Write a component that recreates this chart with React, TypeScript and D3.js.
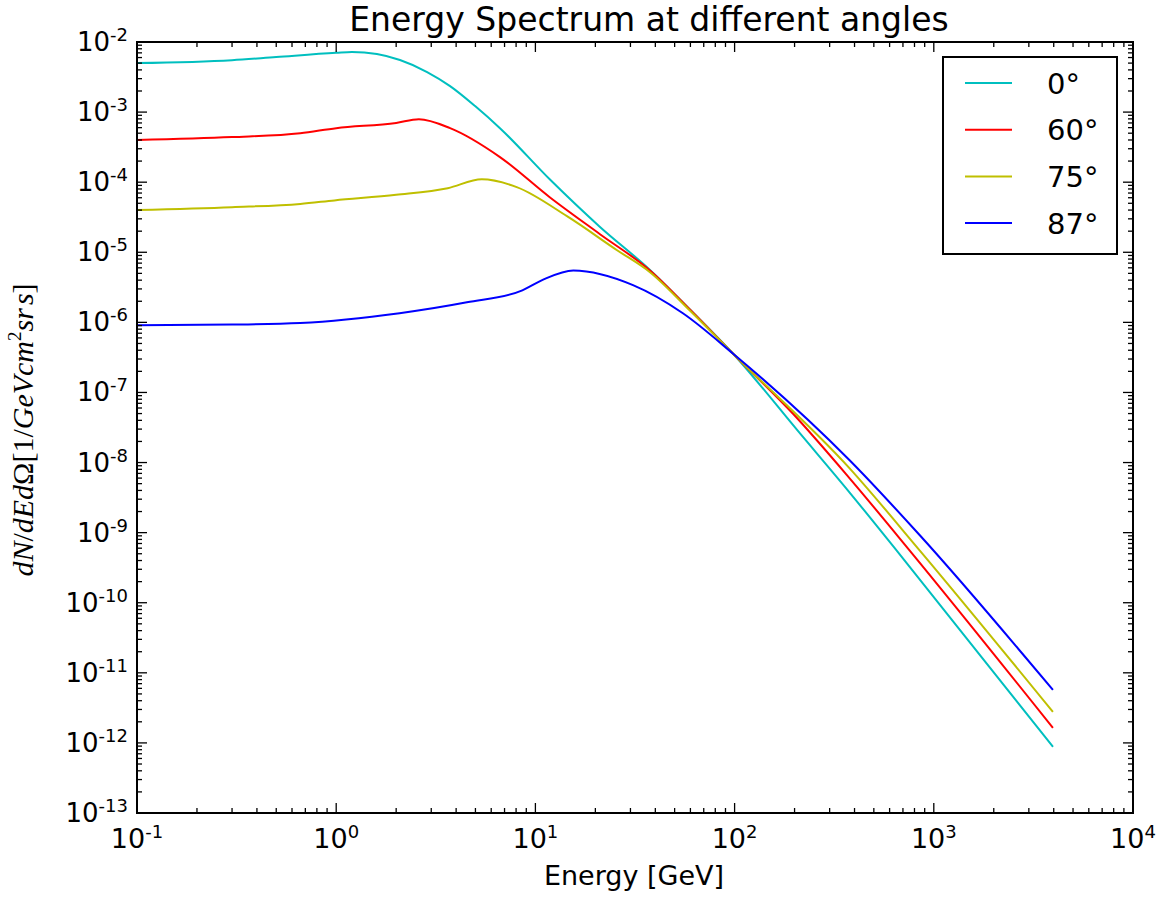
import React from "react";
import * as d3 from "d3";

const seriesLabels = ["0°", "60°", "75°", "87°"];
const seriesColors = ["#00BFBF", "#FF0000", "#BFBF00", "#0000FF"];

const energy0 = [0.1, 0.3, 0.5, 1.0, 1.2, 1.6, 2.09, 2.86, 3.73, 4.98, 6.64, 11.8, 21.1, 37.6, 60, 98, 213, 379, 653, 3963];
const flux0 = [5.0e-3, 5.5e-3, 6.1e-3, 7.0e-3, 7.2e-3, 6.74e-3, 5.53e-3, 3.73e-3, 2.35e-3, 1.22e-3, 5.9e-4, 1.1e-4, 2.3e-5, 5.6e-6, 1.5e-6, 3.6e-7, 2.6e-8, 3.7e-9, 5.5e-10, 8.8e-13];

const energy60 = [0.1, 0.3, 0.66, 1.0, 2.0, 2.6, 3.73, 6.64, 11.8, 21.1, 37.6, 60, 98, 196, 379, 759, 3963];
const flux60 = [4.0e-4, 4.4e-4, 5.0e-4, 5.9e-4, 7.0e-4, 7.9e-4, 5.9e-4, 2.28e-4, 6.1e-5, 1.81e-5, 5.5e-6, 1.5e-6, 3.6e-7, 5.0e-8, 5.9e-9, 5.5e-10, 1.64e-12];

const energy75 = [0.1, 0.3, 0.66, 0.98, 2.0, 3.63, 5.38, 8.06, 14.4, 25.7, 37.6, 60, 98, 379, 853, 3963];
const flux75 = [4.0e-5, 4.4e-5, 4.9e-5, 5.5e-5, 6.6e-5, 8.2e-5, 1.10e-4, 8.5e-5, 3.27e-5, 1.07e-5, 5.2e-6, 1.45e-6, 3.6e-7, 8.2e-9, 5.5e-10, 2.77e-12];

const energy87 = [0.1, 0.3, 0.66, 2.08, 4.53, 8.6, 11, 15.5, 30.9, 55, 98, 379, 853, 3963];
const flux87 = [9.1e-7, 9.3e-7, 9.8e-7, 1.35e-6, 1.93e-6, 2.86e-6, 4.1e-6, 5.5e-6, 3.4e-6, 1.35e-6, 3.6e-7, 1.07e-8, 9.1e-10, 5.7e-12];

const xTickExps = [-1, 0, 1, 2, 3, 4];
const yTickExps = [-13, -12, -11, -10, -9, -8, -7, -6, -5, -4, -3, -2];

const titleText = "Energy Spectrum at different angles";
const xLabelText = "Energy [GeV]";

const W = 1165;
const H = 899;
const L = 137, R = 1133, T = 42, B = 813;

export default function App() {
  const x = d3.scaleLog().domain([0.1, 1e4]).range([L, R]);
  const y = d3.scaleLog().domain([1e-13, 1e-2]).range([B, T]);

  const series = [
    { e: energy0, f: flux0 },
    { e: energy60, f: flux60 },
    { e: energy75, f: flux75 },
    { e: energy87, f: flux87 },
  ];

  const line = d3
    .line<[number, number]>()
    .x((d) => x(d[0]))
    .y((d) => y(d[1]))
    .curve(d3.curveMonotoneX);

  const xMinor: number[] = [];
  for (let p = -1; p < 4; p++) for (let k = 2; k <= 9; k++) xMinor.push(k * Math.pow(10, p));
  const yMinor: number[] = [];
  for (let p = -13; p < -2; p++) for (let k = 2; k <= 9; k++) yMinor.push(k * Math.pow(10, p));

  const majorLen = 10;
  const minorLen = 5;
  const font = "DejaVu Sans, sans-serif";

  return (
    <svg width={W} height={H} style={{ position: "absolute", left: 0, top: 0, background: "#fff" }}>
      <rect x={0} y={0} width={W} height={H} fill="#fff" />
      <clipPath id="plotclip">
        <rect x={L} y={T} width={R - L} height={B - T} />
      </clipPath>
      <g clipPath="url(#plotclip)">
        {series.map((s, i) => (
          <path
            key={i}
            d={line(s.e.map((v, j) => [v, s.f[j]] as [number, number])) || ""}
            fill="none"
            stroke={seriesColors[i]}
            strokeWidth={2}
          />
        ))}
      </g>
      {/* ticks */}
      <g stroke="#000" strokeWidth={1.3}>
        {xTickExps.map((p) => {
          const px = x(Math.pow(10, p));
          return (
            <g key={"xt" + p}>
              <line x1={px} x2={px} y1={B} y2={B - majorLen} />
              <line x1={px} x2={px} y1={T} y2={T + majorLen} />
            </g>
          );
        })}
        {xMinor.map((v, i) => {
          const px = x(v);
          return (
            <g key={"xm" + i}>
              <line x1={px} x2={px} y1={B} y2={B - minorLen} />
              <line x1={px} x2={px} y1={T} y2={T + minorLen} />
            </g>
          );
        })}
        {yTickExps.map((p) => {
          const py = y(Math.pow(10, p));
          return (
            <g key={"yt" + p}>
              <line x1={L} x2={L + majorLen} y1={py} y2={py} />
              <line x1={R} x2={R - majorLen} y1={py} y2={py} />
            </g>
          );
        })}
        {yMinor.map((v, i) => {
          const py = y(v);
          return (
            <g key={"ym" + i}>
              <line x1={L} x2={L + minorLen} y1={py} y2={py} />
              <line x1={R} x2={R - minorLen} y1={py} y2={py} />
            </g>
          );
        })}
      </g>
      <rect x={L} y={T} width={R - L} height={B - T} fill="none" stroke="#000" strokeWidth={2} />
      {/* x tick labels */}
      {xTickExps.map((p) => (
        <text key={"xl" + p} x={x(Math.pow(10, p))} y={B + 35} textAnchor="middle" fontFamily={font} fontSize={27} fill="#000">
          10
          <tspan fontSize={18} dy={-10}>{p}</tspan>
        </text>
      ))}
      {/* y tick labels */}
      {yTickExps.map((p) => (
        <text key={"yl" + p} x={L - 9} y={y(Math.pow(10, p)) + 9} textAnchor="end" fontFamily={font} fontSize={26} fill="#000">
          10
          <tspan fontSize={18} dy={-10}>{p}</tspan>
        </text>
      ))}
      {/* title */}
      <text x={649} y={31} textAnchor="middle" fontFamily={font} fontSize={33} fill="#000">
        {titleText}
      </text>
      {/* x label */}
      <text x={634} y={885} textAnchor="middle" fontFamily={font} fontSize={27} fill="#000">
        {xLabelText}
      </text>
      {/* y label */}
      <text
        transform={`translate(33, 430) rotate(-90)`}
        textAnchor="middle"
        fontFamily="Liberation Serif, serif"
        fontSize={30}
        fill="#000"
      >
        <tspan fontStyle="italic">dN</tspan>
        <tspan>/</tspan>
        <tspan fontStyle="italic">dEd</tspan>
        <tspan>Ω[1/</tspan>
        <tspan fontStyle="italic">GeVcm</tspan>
        <tspan fontSize={19} dy={-12}>2</tspan>
        <tspan fontStyle="italic" dy={12}>sr</tspan>
        <tspan fontStyle="italic" dx={3}>s</tspan>
        <tspan>]</tspan>
      </text>
      {/* legend */}
      <g>
        <rect x={943} y={57} width={174} height={197} fill="#fff" stroke="#000" strokeWidth={2} />
        {seriesLabels.map((lab, i) => {
          const ly = 83 + i * 46.7;
          return (
            <g key={"lg" + i}>
              <line x1={965} x2={1012} y1={ly} y2={ly} stroke={seriesColors[i]} strokeWidth={2} />
              <text x={1047} y={ly + 10.5} fontFamily={font} fontSize={29} fill="#000">
                {lab}
              </text>
            </g>
          );
        })}
      </g>
    </svg>
  );
}
